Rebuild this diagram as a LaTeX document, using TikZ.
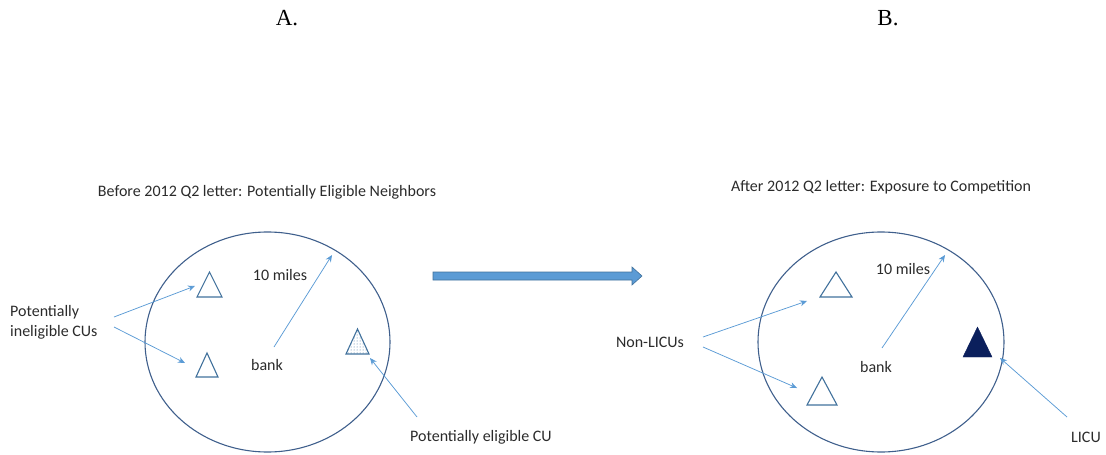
\documentclass[tikz,border=0pt]{standalone}
\usepackage{fontspec}
\setmainfont{Carlito}
\newfontfamily\panelfont{Liberation Serif}
\usetikzlibrary{arrows.meta,patterns}
\definecolor{ringblue}{HTML}{3F5F8C}
\definecolor{arrowblue}{HTML}{5B9BD5}
\definecolor{arrowedge}{HTML}{41719C}
\definecolor{licunavy}{HTML}{0B1F5C}
\definecolor{labelgray}{HTML}{2B2B2B}

\begin{document}
\begin{tikzpicture}[x=1pt,y=-1pt]
            \tikzstyle{every node}+=[inner sep=0pt, text=labelgray, font=\fontsize{16}{20}\selectfont]
            \tikzstyle{ring}=[draw=ringblue, line width=1.1pt]
            \tikzstyle{cu}=[draw=arrowedge, line width=1.1pt]
            \tikzstyle{pointer}=[draw=arrowblue, line width=0.75pt, -{Stealth[length=7pt,width=6pt]}]
            \useasboundingbox (0,0) rectangle (1106,455);
            % panel letters and titles
            \node [text=black] (letterA) at (287,18) {\panelfont\fontsize{23}{26}\selectfont A.};
            \node [text=black] (letterB) at (888,18) {\panelfont\fontsize{23}{26}\selectfont B.};
            \node (titleA) at (267,192) {Before 2012 Q2 letter: Potentially Eligible Neighbors};
            \node (titleB) at (881,187) {After 2012 Q2 letter: Exposure to Competition};
            % left panel
            \draw [ring] (267.5,342) ellipse [x radius=122.5, y radius=110];
            \draw [cu] (197,297) -- (209.5,272) -- (222,297) -- cycle;
            \draw [cu] (196,377) -- (207,353) -- (218,377) -- cycle;
            \draw [cu, pattern=dots, pattern color=arrowedge] (346,354) -- (357.5,329) -- (369,354) -- cycle;
            \node (milesA) at (280,275) {10 miles};
            \node (bankA) at (267,365) {bank};
            \coordinate (centerA) at (274,347);
            \coordinate (rimA) at (332,255);
            \draw [pointer] (centerA) -- (rimA);
            \node [align=left, anchor=west] (ineligible) at (10,322) {Potentially\\ineligible CUs};
            \coordinate (ineligUp) at (114,317);
            \coordinate (ineligDown) at (114,327);
            \coordinate (triUpA) at (195,286);
            \coordinate (triDownA) at (185,363);
            \draw [pointer] (ineligUp) -- (triUpA);
            \draw [pointer] (ineligDown) -- (triDownA);
            \node [anchor=west] (eligible) at (410,437) {Potentially eligible CU};
            \coordinate (eligTail) at (417,417);
            \coordinate (eligTip) at (370,358);
            \draw [pointer] (eligTail) -- (eligTip);
            % transition arrow
            \filldraw [fill=arrowblue, draw=arrowedge, line width=0.6pt]
                (433,272) -- (632,272) -- (632,267) -- (642,276) -- (632,285) -- (632,280) -- (433,280) -- cycle;
            % right panel
            \draw [ring] (881,342) ellipse [x radius=123, y radius=110];
            \draw [cu] (820,297) -- (836,272) -- (852,297) -- cycle;
            \draw [cu] (807,405) -- (822,377) -- (837,405) -- cycle;
            \draw [draw=licunavy, fill=licunavy] (963,357) -- (977.5,327) -- (992,357) -- cycle;
            \node (milesB) at (903,269) {10 miles};
            \node (bankB) at (876,367) {bank};
            \coordinate (centerB) at (882,348);
            \coordinate (rimB) at (945,255);
            \draw [pointer] (centerB) -- (rimB);
            \node (nonlicu) at (650,342) {Non-LICUs};
            \coordinate (nonUp) at (703,337);
            \coordinate (nonDown) at (703,347);
            \coordinate (triUpB) at (807,301);
            \coordinate (triDownB) at (797,388);
            \draw [pointer] (nonUp) -- (triUpB);
            \draw [pointer] (nonDown) -- (triDownB);
            \node (licu) at (1086,437) {LICU};
            \coordinate (licuTail) at (1067,417);
            \coordinate (licuTip) at (1000,358);
            \draw [pointer] (licuTail) -- (licuTip);
\end{tikzpicture}
\end{document}
